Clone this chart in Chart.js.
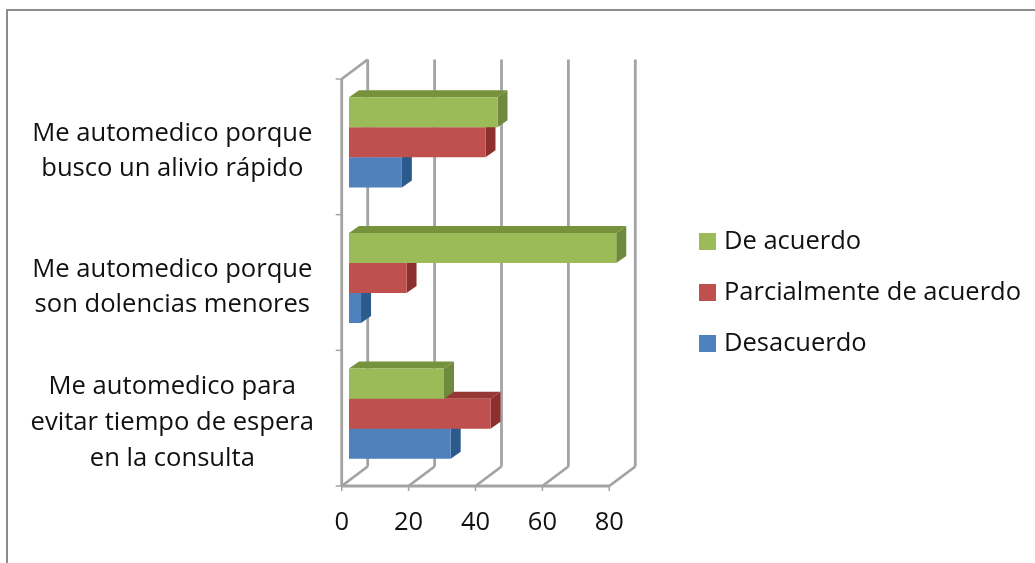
<!DOCTYPE html>
<html>
<head>
<meta charset="utf-8">
<script src="https://cdn.jsdelivr.net/npm/chart.js@4"></script>
<style>
    html, body { margin: 0; padding: 0; background: #fff; overflow: hidden; }
    #frame { position: absolute; left: 6px; top: 9px; width: 1029px; height: 554px; box-sizing: border-box;
             border-left: 2px solid #8c8c8c; border-top: 2px solid #8c8c8c; }
    #wrap { position: absolute; left: 0; top: 0; width: 1035px; height: 563px; }
    #legend { position: absolute; left: 699px; top: 214px; font: 25.5px "Open Sans", sans-serif; color: #111; }
    #legend div { height: 51px; line-height: 50px; white-space: nowrap; }
    #legend span { display: inline-block; width: 17px; height: 17px; margin-right: 8px; vertical-align: -1px; }
</style>
</head>
<body>
<div id="frame"></div>
<div id="wrap"><canvas id="chart" width="1035" height="563"></canvas></div>
<div id="legend"></div>
<script>
const categories = [
    ['Me automedico porque', 'busco un alivio rápido'],
    ['Me automedico porque', 'son dolencias menores'],
    ['Me automedico para', 'evitar tiempo de espera', 'en la consulta']
];
const seriesNames = ['De acuerdo', 'Parcialmente de acuerdo', 'Desacuerdo'];
const deAcuerdo = [44.4, 79.9, 28.4];
const parcialmente = [40.8, 17.2, 42.3];
const desacuerdo = [15.8, 3.6, 30.4];
const tickValues = [0, 20, 40, 60, 80];

const frontColors = ['#9BBB59', '#C0504D', '#4F81BD'];
const sideColors = ['#6F8A3C', '#8C2F2D', '#2C5A8C'];
const topColors = ['#76923C', '#953735', '#366092'];

// the 3d look: offsets from the plane the bars stand on
const barDepth = { x: 10, y: -7 };
const front = { x: -7.3, y: 4.5 };
const back = { x: 18.7, y: -15 };
const wallColor = '#a3a3a3';

function line(ctx, x1, y1, x2, y2) {
    ctx.beginPath();
    ctx.moveTo(x1, y1);
    ctx.lineTo(x2, y2);
    ctx.stroke();
}

function poly(ctx, pts, color) {
    ctx.fillStyle = color;
    ctx.beginPath();
    pts.forEach((p, i) => i ? ctx.lineTo(p[0], p[1]) : ctx.moveTo(p[0], p[1]));
    ctx.closePath();
    ctx.fill();
}

const walls3d = {
    id: 'walls3d',
    beforeDatasetsDraw(chart) {
        const ctx = chart.ctx;
        const xs = chart.scales.x;
        const ys = chart.scales.y;
        const top = ys.top + front.y;
        const bottom = ys.bottom + front.y;
        ctx.save();
        ctx.strokeStyle = wallColor;
        ctx.lineWidth = 2.8;

        // back wall and floor lines
        tickValues.forEach(v => {
            const x = xs.getPixelForValue(v);
            line(ctx, x + back.x, ys.top + back.y, x + back.x, ys.bottom + back.y);
            line(ctx, x + front.x, bottom, x + back.x, ys.bottom + back.y);
        });
        const left = xs.getPixelForValue(0) + front.x;
        const right = xs.getPixelForValue(80) + front.x;
        line(ctx, left, top, left, bottom);
        line(ctx, left, bottom, right, bottom);
        line(ctx, left, top, xs.getPixelForValue(0) + back.x, ys.top + back.y);

        // tick marks
        ctx.lineWidth = 1.5;
        tickValues.forEach(v => {
            const x = xs.getPixelForValue(v) + front.x;
            line(ctx, x, bottom, x, bottom + 5);
        });
        for (let i = 0; i <= categories.length; i++) {
            const y = top + i * (bottom - top) / categories.length;
            line(ctx, left - 6, y, left, y);
        }
        ctx.restore();
    },
    // chart.js draws the last dataset first, so the faces land under the next bars
    beforeDatasetDraw(chart, args) {
        const ctx = chart.ctx;
        const i = args.index;
        chart.getDatasetMeta(i).data.forEach(bar => {
            const x0 = bar.base;
            const x1 = bar.x;
            const y0 = bar.y - bar.height / 2;
            const y1 = bar.y + bar.height / 2;
            poly(ctx, [[x0, y0], [x1, y0], [x1 + barDepth.x, y0 + barDepth.y], [x0 + barDepth.x, y0 + barDepth.y]], topColors[i]);
            poly(ctx, [[x1, y0], [x1 + barDepth.x, y0 + barDepth.y], [x1 + barDepth.x, y1 + barDepth.y], [x1, y1]], sideColors[i]);
        });
    }
};

const seriesValues = [deAcuerdo, parcialmente, desacuerdo];

const data = {
    labels: categories,
    datasets: seriesNames.map((name, i) => ({
        label: name,
        data: seriesValues[i],
        backgroundColor: frontColors[i],
        borderWidth: 0,
        barPercentage: 1,
        categoryPercentage: 0.665
    }))
};

const config = {
    type: 'bar',
    data: data,
    options: {
        indexAxis: 'y',
        responsive: false,
        animation: false,
        layout: { autoPadding: false, padding: { left: 0, top: 74.5, right: 418.4, bottom: 0 } },
        plugins: { legend: { display: false }, tooltip: { enabled: false } },
        scales: {
            x: {
                min: 0,
                max: 80,
                afterFit: scale => { scale.height = 81.5; scale.paddingLeft = 0; scale.paddingRight = 0; },
                afterBuildTicks: scale => { scale.ticks = tickValues.map(v => ({ value: v })); },
                grid: { display: false, drawTicks: false },
                border: { display: false },
                ticks: {
                    maxRotation: 0,
                    padding: 26,
                    labelOffset: -7.3,
                    color: '#111',
                    font: { family: 'Open Sans', size: 25.5 }
                }
            },
            y: {
                // the first label's height would otherwise push the plot area down
                afterFit: scale => { scale.width = 349; scale.paddingTop = 0; scale.paddingBottom = 0; },
                grid: { display: false, drawTicks: false },
                border: { display: false },
                ticks: {
                    crossAlign: 'center',
                    padding: 35,
                    labelOffset: 9,
                    color: '#111',
                    font: { family: 'Open Sans', size: 25.6, lineHeight: 1.39 }
                }
            }
        }
    },
    plugins: [walls3d]
};

new Chart(document.getElementById('chart'), config);

const legendBox = document.getElementById('legend');
seriesNames.forEach((name, i) => {
    const row = document.createElement('div');
    const swatch = document.createElement('span');
    swatch.style.background = frontColors[i];
    row.appendChild(swatch);
    row.appendChild(document.createTextNode(name));
    legendBox.appendChild(row);
});
</script>
</body>
</html>
